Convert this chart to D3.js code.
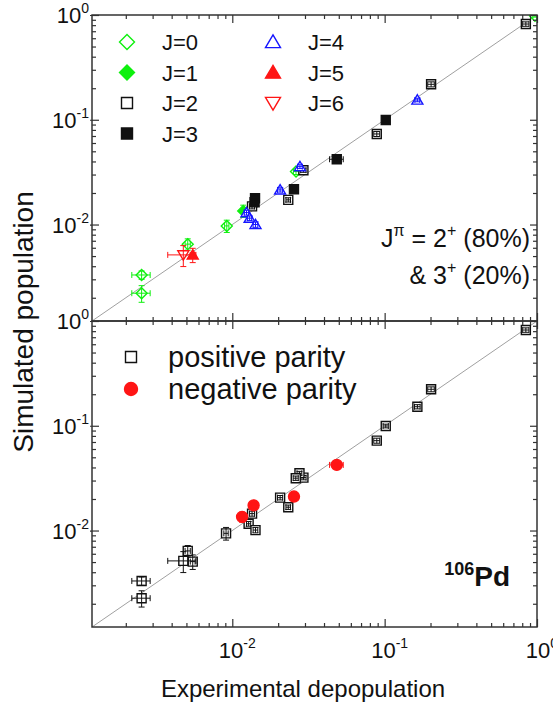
<!DOCTYPE html>
<html>
<head>
<meta charset="utf-8">
<script src="https://cdnjs.cloudflare.com/ajax/libs/d3/7.8.5/d3.min.js"></script>
<style>
body{margin:0;background:#fff;}
svg{display:block;font-family:Arial,"Liberation Sans",sans-serif;}
</style>
</head>
<body>
<div id="plot"></div>
<script>
// each point: [x, y, xerr, yerr]
var axisRange = [0.0012, 1];
var majorTicks = [0.01, 0.1, 1];
var majorLabels = ['-2', '-1', '0'];

// top panel, by J
var j0 = [[0.00254,0.0033,0.00035,0.0003],[0.00254,0.00221,0.00035,0.0004],[0.0051,0.0065,0.0002,0.0008],
          [0.0092,0.0097,0.0003,0.0013],[0.0262,0.032,0.001,0.002],[0.97,0.985,0.03,0.03]];
var j1 = [[0.0118,0.0135,0.0003,0.0018]];
var j2 = [[0.845,0.82,0.04,0.04],[0.2018,0.218,0.01,0.012],[0.0888,0.0732,0.004,0.004],
          [0.0293,0.033,0.0012,0.0015],[0.0233,0.0172,0.0008,0.0008],[0.01348,0.0149,0.0005,0.0008]];
var j3 = [[0.1017,0.0995,0.004,0.004],[0.0485,0.042,0.005,0.002],[0.0254,0.0217,0.0008,0.001],
          [0.0141,0.0178,0.0005,0.001],[0.014,0.0163,0.0005,0.001]];
var j4 = [[0.164,0.1545,0.006,0.006],[0.0278,0.0357,0.001,0.0015],[0.0206,0.0214,0.0008,0.001],
          [0.0124,0.013,0.0004,0.0007],[0.013,0.0115,0.0004,0.0006],[0.0142,0.01,0.0005,0.0006]];
var j5 = [[0.0055,0.00513,0.0002,0.0008]];
var j6 = [[0.00477,0.00513,0.001,0.00116]];

// bottom panel, by parity
var posParity = [[0.845,0.82,0.04,0.04],[0.2018,0.223,0.01,0.012],[0.164,0.152,0.007,0.007],[0.1017,0.0995,0.004,0.004],
                 [0.0888,0.0721,0.004,0.004],[0.0293,0.032,0.0012,0.0015],[0.0276,0.0352,0.001,0.0015],[0.0261,0.0316,0.001,0.0015],
                 [0.0233,0.0167,0.0008,0.0008],[0.0206,0.0206,0.0008,0.001],[0.01348,0.0145,0.0005,0.0008],[0.0128,0.0116,0.0004,0.0006],
                 [0.0142,0.0101,0.0005,0.0006],[0.0091,0.0094,0.0003,0.0013],[0.0055,0.00505,0.0002,0.0008],[0.0051,0.00639,0.0002,0.0008],
                 [0.00477,0.00513,0.001,0.00116],[0.00254,0.0033,0.00035,0.0003],[0.00254,0.00226,0.00035,0.0004]];
var negParity = [[0.0485,0.0423,0.005,0.002],[0.0254,0.0211,0.0008,0.001],[0.0138,0.0174,0.0005,0.001],[0.0116,0.0135,0.0003,0.0015]];

var green = '#0ef00e', blue = '#1515ff', red = '#ff1515';

var svg = d3.select('#plot').append('svg').attr('width',553).attr('height',709);

var x = d3.scaleLog().domain(axisRange).range([92,537]);
var yTop = d3.scaleLog().domain(axisRange).range([321,15]);
var yBot = d3.scaleLog().domain(axisRange).range([627,321]);

var minorTicks = x.ticks().filter(function(v){ return majorTicks.indexOf(v) < 0; });

function shape(type, s){
	var h = s/2;
	if(type=='square') return 'M'+(-h)+','+(-h)+'h'+s+'v'+s+'h'+(-s)+'Z';
	if(type=='diamond') return 'M0,'+(-h)+'L'+h+',0L0,'+h+'L'+(-h)+',0Z';
	if(type=='up') return 'M0,'+(-h*0.95)+'L'+h+','+(h*0.75)+'L'+(-h)+','+(h*0.75)+'Z';
	if(type=='down') return 'M0,'+(h*0.95)+'L'+h+','+(-h*0.75)+'L'+(-h)+','+(-h*0.75)+'Z';
	return d3.symbol(d3.symbolCircle, Math.PI*h*h)();
}

function panel(y, top, series, id){
	var g = svg.append('g');
	svg.append('clipPath').attr('id',id).append('rect')
		.attr('x',92).attr('y',top).attr('width',445).attr('height',306);
	var inner = g.append('g').attr('clip-path','url(#'+id+')');

	// y = x guide line
	inner.append('line')
		.attr('x1',x(axisRange[0])).attr('y1',y(axisRange[0]))
		.attr('x2',x(axisRange[1])).attr('y2',y(axisRange[1]))
		.attr('stroke','#a0a0a0').attr('stroke-width',1);

	series.forEach(function(s){
		var pts = inner.append('g').selectAll('g').data(s.data).enter().append('g');
		pts.append('path')
			.attr('transform',function(d){ return 'translate('+x(d[0])+','+y(d[1])+')'; })
			.attr('d',shape(s.shape,s.size))
			.attr('fill',s.fill).attr('stroke',s.color).attr('stroke-width',1.4);
		// error bars
		pts.each(function(d){
			var e = d3.select(this), cx = x(d[0]), cy = y(d[1]);
			var xl = x(Math.max(d[0]-d[2],1e-5)), xr = x(d[0]+d[2]);
			var yl = y(Math.max(d[1]-d[3],1e-5)), yh = y(d[1]+d[3]);
			var segs = [[xl,cy,xr,cy],[xl,cy-3,xl,cy+3],[xr,cy-3,xr,cy+3],
			            [cx,yl,cx,yh],[cx-3,yl,cx+3,yl],[cx-3,yh,cx+3,yh]];
			e.selectAll('line').data(segs).enter().append('line')
				.attr('x1',function(q){return q[0];}).attr('y1',function(q){return q[1];})
				.attr('x2',function(q){return q[2];}).attr('y2',function(q){return q[3];})
				.attr('stroke',s.color).attr('stroke-width',1);
		});
	});

	function tk(axisFn, scale, vals, size, tx, ty){
		g.append('g').attr('transform','translate('+tx+','+ty+')')
			.call(axisFn(scale).tickValues(vals).tickSize(size).tickSizeOuter(0).tickFormat(''))
			.call(function(a){
				a.select('.domain').remove();
				a.selectAll('line').attr('stroke','#333').attr('stroke-width',1.2);
			});
	}
	var bottom = top + 306;
	// inward minor and major ticks on all four sides, majors poke out a little
	tk(d3.axisTop, x, minorTicks, 4, 0, bottom);
	tk(d3.axisTop, x, majorTicks, 8, 0, bottom);
	tk(d3.axisBottom, x, minorTicks, 4, 0, top);
	tk(d3.axisBottom, x, majorTicks, 8, 0, top);
	tk(d3.axisRight, y, minorTicks, 4, 92, 0);
	tk(d3.axisRight, y, majorTicks, 7, 92, 0);
	tk(d3.axisLeft, y, majorTicks, 2, 92, 0);
	tk(d3.axisLeft, y, minorTicks, 4, 537, 0);
	tk(d3.axisLeft, y, majorTicks, 7, 537, 0);

	g.append('rect').attr('x',92).attr('y',top).attr('width',445).attr('height',306)
		.attr('fill','none').attr('stroke','#333').attr('stroke-width',1.5);

	// y tick labels
	majorTicks.forEach(function(v,i){
		if(y(v) > bottom - 1 && id=='clipTop') return;
		var t = g.append('text').attr('x',89).attr('y',y(v)+8).attr('text-anchor','end')
			.style('font-size','22px').attr('fill','#111');
		t.append('tspan').text('10');
		t.append('tspan').attr('dy',-10).style('font-size','14px').text(majorLabels[i]);
	});
	return g;
}

var topSeries = [
	{data:j0, shape:'diamond', size:11, color:green, fill:'#fff'},
	{data:j1, shape:'diamond', size:11, color:green, fill:green},
	{data:j2, shape:'square', size:9, color:'#111', fill:'#fff'},
	{data:j3, shape:'square', size:9, color:'#111', fill:'#111'},
	{data:j4, shape:'up', size:11, color:blue, fill:'#fff'},
	{data:j5, shape:'up', size:11, color:red, fill:red},
	{data:j6, shape:'down', size:11, color:red, fill:'#fff'}
];
var botSeries = [
	{data:posParity, shape:'square', size:9, color:'#111', fill:'#fff'},
	{data:negParity, shape:'circle', size:11, color:red, fill:red}
];

var gTop = panel(yTop, 15, topSeries, 'clipTop');
var gBot = panel(yBot, 321, botSeries, 'clipBot');

// x tick labels
majorTicks.forEach(function(v,i){
	var t = svg.append('text').attr('x',x(v)+5).attr('y',658).attr('text-anchor','middle')
		.style('font-size','22px').attr('fill','#111');
	t.append('tspan').text('10');
	t.append('tspan').attr('dy',-10).style('font-size','14px').text(majorLabels[i]);
});

// legend, top panel
var legTop = [['J=0',0,127,42],['J=1',1,127,72.5],['J=2',2,127,103],['J=3',3,127,133.5],
              ['J=4',4,273,42],['J=5',5,273,72.5],['J=6',6,273,103]];
legTop.forEach(function(l){
	var s = topSeries[l[1]];
	svg.append('path').attr('transform','translate('+l[2]+','+l[3]+')')
		.attr('d',shape(s.shape, s.shape=='square'?11:15))
		.attr('fill',s.fill).attr('stroke',s.color).attr('stroke-width',1.4);
	svg.append('text').attr('x',l[2]+35).attr('y',l[3]+8).style('font-size','22px')
		.attr('fill','#111').text(l[0]);
});

// legend, bottom panel
var legBot = [['positive parity',0,357],['negative parity',1,389]];
legBot.forEach(function(l){
	var s = botSeries[l[1]];
	svg.append('path').attr('transform','translate(131,'+l[2]+')')
		.attr('d',shape(s.shape, s.shape=='square'?11:13))
		.attr('fill',s.fill).attr('stroke',s.color).attr('stroke-width',1.4);
	svg.append('text').attr('x',168).attr('y',l[2]+10).style('font-size','29px')
		.attr('fill','#111').text(l[0]);
});

// annotations
function sup(t, str){ t.append('tspan').attr('dy',-11).style('font-size','16px').text(str); }
var a1 = svg.append('text').attr('x',530).attr('y',247).attr('text-anchor','end')
	.style('font-size','25px').attr('fill','#111');
a1.append('tspan').text('J');
sup(a1,'\u03c0');
a1.append('tspan').attr('dy',11).text(' = 2');
sup(a1,'+');
a1.append('tspan').attr('dy',11).text(' (80%)');

var a2 = svg.append('text').attr('x',530).attr('y',284).attr('text-anchor','end')
	.style('font-size','25px').attr('fill','#111');
a2.append('tspan').text('& 3');
sup(a2,'+');
a2.append('tspan').attr('dy',11).text(' (20%)');

var pd = svg.append('text').attr('x',510).attr('y',586).attr('text-anchor','end')
	.style('font-size','28px').style('font-weight','bold').attr('fill','#111');
pd.append('tspan').attr('dy',-11).style('font-size','18px').text('106');
pd.append('tspan').attr('dy',11).text('Pd');

// axis titles
svg.append('text').attr('transform','translate(33,322) rotate(-90)').attr('text-anchor','middle')
	.style('font-size','28px').attr('fill','#111').text('Simulated population');
svg.append('text').attr('x',303).attr('y',697).attr('text-anchor','middle')
	.style('font-size','24px').attr('fill','#111').text('Experimental depopulation');
</script>
</body>
</html>
